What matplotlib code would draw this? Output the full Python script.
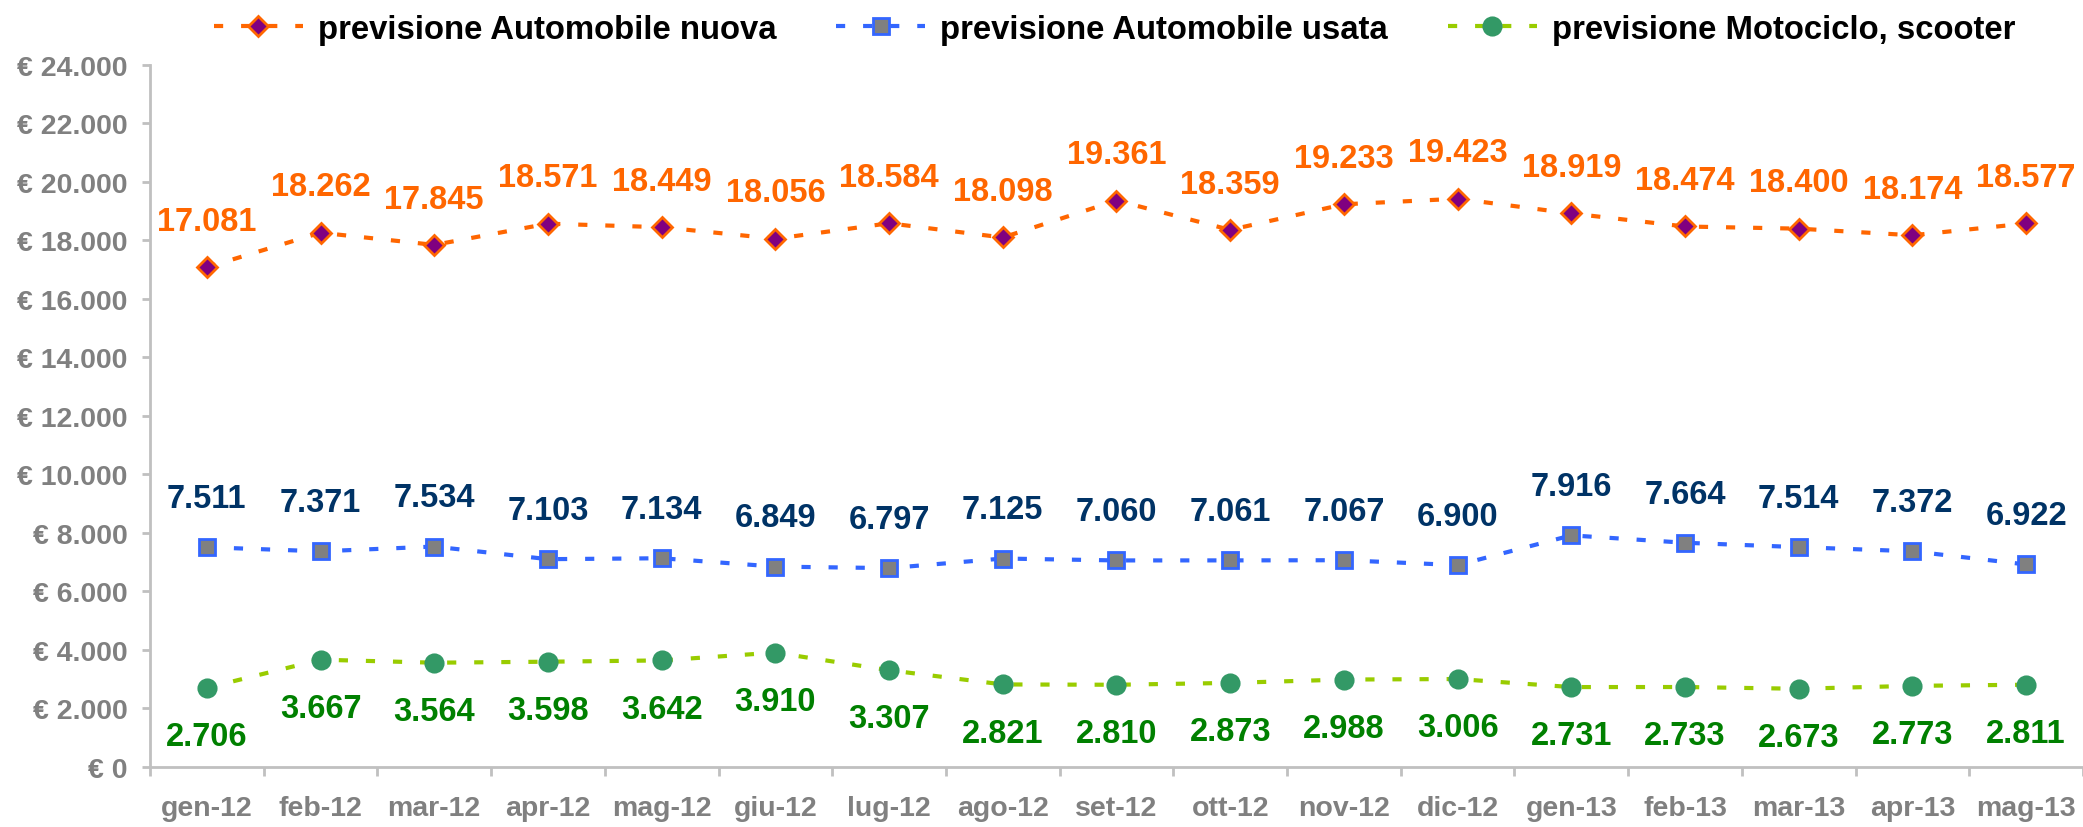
import matplotlib
matplotlib.use("Agg")
import matplotlib.pyplot as plt
from matplotlib.lines import Line2D

plt.rcParams['font.family'] = ['Liberation Sans', 'DejaVu Sans']
plt.rcParams['font.weight'] = 'bold'

# months
mesi = ['gen-12', 'feb-12', 'mar-12', 'apr-12', 'mag-12', 'giu-12', 'lug-12', 'ago-12', 'set-12',
        'ott-12', 'nov-12', 'dic-12', 'gen-13', 'feb-13', 'mar-13', 'apr-13', 'mag-13']

nuova = [17081, 18262, 17845, 18571, 18449, 18056, 18584, 18098, 19361,
         18359, 19233, 19423, 18919, 18474, 18400, 18174, 18577]
usata = [7511, 7371, 7534, 7103, 7134, 6849, 6797, 7125, 7060,
         7061, 7067, 6900, 7916, 7664, 7514, 7372, 6922]
moto = [2706, 3667, 3564, 3598, 3642, 3910, 3307, 2821, 2810,
        2873, 2988, 3006, 2731, 2733, 2673, 2773, 2811]

yticks = list(range(0, 24001, 2000))

def fmt(v):
    return f"{v:,}".replace(",", ".")

fig = plt.figure(figsize=(20.83, 8.28), dpi=100)
ax = fig.add_axes([0.072, 0.0725, 0.928, 0.848])

x = list(range(len(mesi)))
dash = (2.2, 4.3)
series = [
    (nuova, 'previsione Automobile nuova', '#FF6600', 'D', '#800080', '#FF6600', 10, '#FF6600', 33),
    (usata, 'previsione Automobile usata', '#3366FF', 's', '#808080', '#3366FF', 12, '#003366', 35),
    (moto, 'previsione Motociclo, scooter', '#99CC00', 'o', '#339966', '#339966', 12.5, '#008000', -35),
]

handles = []
for vals, name, lc, mk, mfc, mec, ms, tc, off in series:
    ax.plot(x, vals, color=lc, lw=3, dashes=dash, zorder=2)
    ax.plot(x, vals, ls='none', marker=mk, ms=ms, mfc=mfc, mec=mec, mew=2, zorder=3)
    for xi, v in zip(x, vals):
        ax.annotate(fmt(v), (xi, v), xytext=(0, off), textcoords='offset points',
                    ha='center', va='center', fontsize=23.5, color=tc, fontweight='bold')
    handles.append(Line2D([], [], color=lc, lw=3, dashes=dash, marker=mk, ms=ms,
                          mfc=mfc, mec=mec, mew=2, label=name))

ax.set_xlim(-0.5, len(mesi) - 0.5)
ax.set_ylim(0, 24000)
ax.set_yticks(yticks)
ax.set_yticklabels(["€ " + fmt(v) for v in yticks])
ax.set_xticks(x)
ax.set_xticklabels(mesi)
ax.set_xticks([i - 0.5 for i in range(len(mesi) + 1)], minor=True)
ax.tick_params(axis='x', which='major', length=0, pad=20, labelsize=20.5, labelcolor='#808080')
ax.tick_params(axis='x', which='minor', length=6.5, width=2, color='#C0C0C0', direction='out')
ax.tick_params(axis='y', length=6, width=2, color='#C0C0C0', labelsize=20.5, labelcolor='#808080', pad=10)

for s in ['top', 'right']:
    ax.spines[s].set_visible(False)
for s in ['left', 'bottom']:
    ax.spines[s].set_color('#C0C0C0')
    ax.spines[s].set_linewidth(2)

fig.legend(handles=handles, loc='center left', bbox_to_anchor=(0.1027, 1 - 30 / 828), ncol=3,
           frameon=False, handlelength=2.7, columnspacing=1.82, handletextpad=0.46, borderpad=0,
           borderaxespad=0, prop={'weight': 'bold', 'size': 23.7})

fig.savefig('out.png', dpi=100)
